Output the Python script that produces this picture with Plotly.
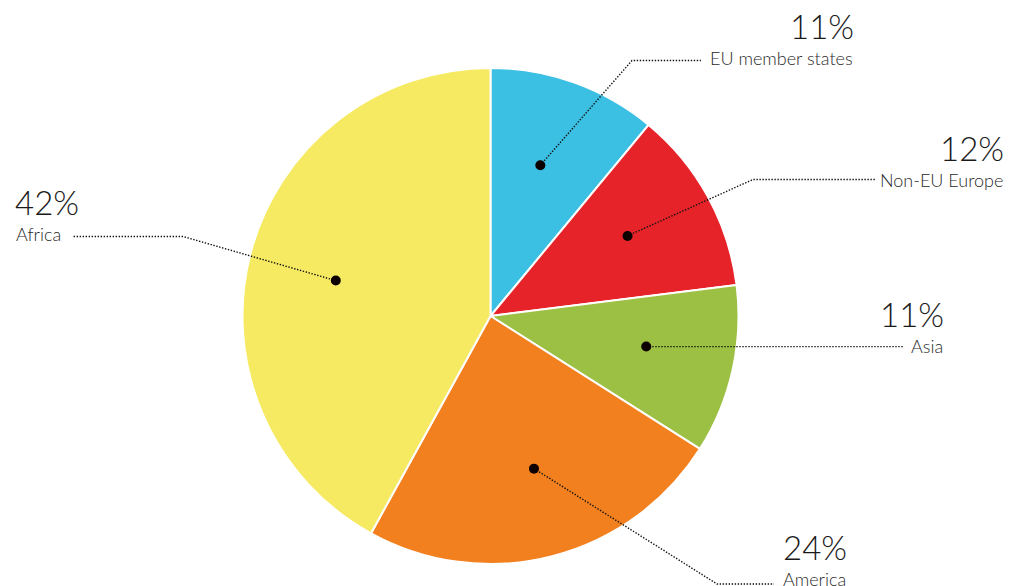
import math
import plotly.graph_objects as go

# Share of total by region
categories = ["EU member states", "Non-EU Europe", "Asia", "America", "Africa"]
values = [11, 12, 11, 24, 42]
colors = ["#3BBFE3", "#E52329", "#9BC044", "#F2801F", "#F5EA62"]

W, H = 1017, 586
CX, CY, R = 490.5, 316, 248          # pie centre and radius in pixels
DOT_R = 0.64                          # dot radius as fraction of R
DOT_SHIFT = -1.5                      # small angular nudge for the dots (deg)

# Label layout: elbow point of the leader, end of the horizontal run,
# text anchor x, text y, side of the label
label_layout = {
    "EU member states": dict(elbow=(632, 60.5), end=(701, 60.5), tx=855, ty=58, side="right"),
    "Non-EU Europe":    dict(elbow=(753, 179.5), end=(875, 179.5), tx=1005, ty=180, side="right"),
    "Asia":             dict(elbow=None, end=(903, 346), tx=945, ty=346, side="right"),
    "America":          dict(elbow=(717, 584), end=(774, 584), tx=848, ty=579, side="right"),
    "Africa":           dict(elbow=(183, 236.5), end=(72, 236.5), tx=14, ty=234, side="left"),
}

FONT = "Lato"
TXT = "#1a1a1a"

fig = go.Figure()

fig.add_trace(go.Pie(
    labels=categories, values=values, sort=False, direction="clockwise",
    rotation=0, marker=dict(colors=colors, line=dict(color="white", width=2)),
    textinfo="none", hoverinfo="label+percent", showlegend=False,
    domain=dict(x=[(CX - R) / W, (CX + R) / W], y=[1 - (CY + R) / H, 1 - (CY - R) / H]),
))

# empty trace so the pixel-space overlay axes exist
fig.add_trace(go.Scatter(x=[], y=[], showlegend=False, hoverinfo="skip"))

total = sum(values)
cum = 0
shapes = []
annotations = []
for cat, v in zip(categories, values):
    ang = math.radians((cum + v / 2) / total * 360 + DOT_SHIFT)
    cum += v
    dx = CX + DOT_R * R * math.sin(ang)
    dy = CY - DOT_R * R * math.cos(ang)
    lay = label_layout[cat]
    pts = [(dx, dy)]
    if lay["elbow"] is not None:
        pts.append(lay["elbow"])
        pts.append(lay["end"])
    else:
        pts.append((lay["end"][0], dy))
    path = "M " + " L ".join(f"{x:.1f},{y:.1f}" for x, y in pts)
    shapes.append(dict(type="path", xref="x", yref="y", path=path, layer="above",
                       line=dict(color="#111111", width=1.4, dash="1.4px,1.6px")))
    rr = 5
    shapes.append(dict(type="circle", xref="x", yref="y", layer="above",
                       x0=dx - rr, x1=dx + rr, y0=dy - rr, y1=dy + rr,
                       fillcolor="#0d0000", line=dict(width=0)))
    anchor = "right" if lay["side"] == "right" else "left"
    annotations.append(dict(x=lay["tx"], y=lay["ty"], xref="x", yref="y", text=cat,
                            showarrow=False, xanchor=anchor, yanchor="middle",
                            font=dict(family=FONT, size=18, color="#2a2a2a", weight=300)))
    annotations.append(dict(x=lay["tx"] + (1 if anchor == "right" else -1), y=lay["ty"] - 32,
                            xref="x", yref="y", text=f"{v}%",
                            showarrow=False, xanchor=anchor, yanchor="middle",
                            font=dict(family=FONT, size=33, color=TXT, weight=300)))

fig.update_layout(
    width=W, height=H, margin=dict(l=0, r=0, t=0, b=0),
    paper_bgcolor="white", plot_bgcolor="rgba(0,0,0,0)",
    xaxis=dict(range=[0, W], visible=False, fixedrange=True, domain=[0, 1]),
    yaxis=dict(range=[H, 0], visible=False, fixedrange=True, domain=[0, 1]),
    shapes=shapes, annotations=annotations, showlegend=False,
)

fig.write_html("out.html")
